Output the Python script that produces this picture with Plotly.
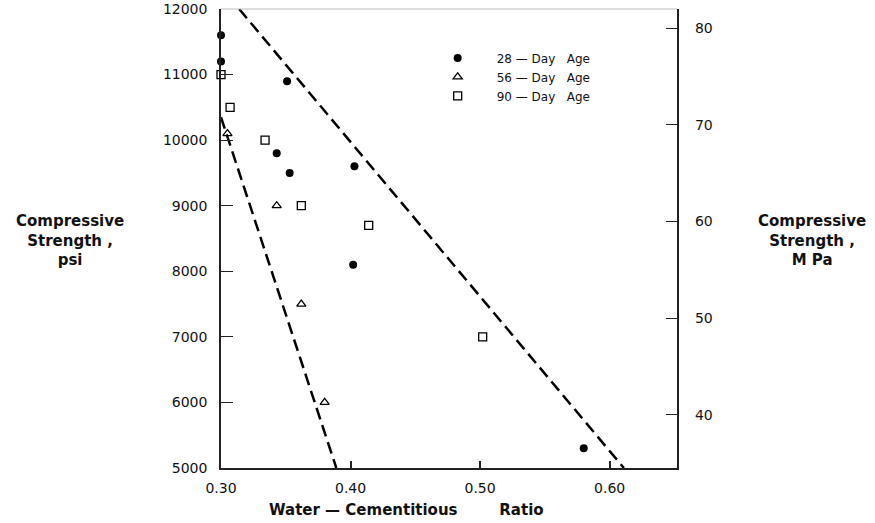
import plotly.graph_objects as go

# ---- data ----
wc_28 = [0.300, 0.300, 0.351, 0.343, 0.353, 0.403, 0.402, 0.580]
psi_28 = [11600, 11200, 10900, 9800, 9500, 9600, 8100, 5300]

wc_56 = [0.305, 0.343, 0.362, 0.380]
psi_56 = [10100, 9000, 7500, 6000]

wc_90 = [0.300, 0.307, 0.334, 0.362, 0.414, 0.502]
psi_90 = [11000, 10500, 10000, 9000, 8700, 7000]

bound_low_wc = [0.300, 0.389]
bound_low_psi = [10350, 5000]
bound_high_wc = [0.314, 0.611]
bound_high_psi = [12000, 5000]

x_ticks = [0.30, 0.40, 0.50, 0.60]
x_ticklabels = ["0.30", "0.40", "0.50", "0.60"]
psi_ticks = [5000, 6000, 7000, 8000, 9000, 10000, 11000, 12000]
psi_ticklabels = ["5000", "6000", "7000", "8000", "9000", "10000", "11000", "12000"]
mpa_ticks = [40, 50, 60, 70, 80]
mpa_ticklabels = ["40", "50", "60", "70", "80"]

NB = "\u00a0"
FONT = "DejaVu Sans"

fig = go.Figure()

dash = "12px,6px"
fig.add_trace(go.Scatter(x=bound_low_wc, y=bound_low_psi, mode="lines",
                         line=dict(color="black", width=2.5, dash=dash),
                         showlegend=False, hoverinfo="skip"))
fig.add_trace(go.Scatter(x=bound_high_wc, y=bound_high_psi, mode="lines",
                         line=dict(color="black", width=2.5, dash=dash),
                         showlegend=False, hoverinfo="skip"))

fig.add_trace(go.Scatter(x=wc_28, y=psi_28, mode="markers",
                         name=f"28 — Day{NB*3}Age",
                         marker=dict(symbol="circle", size=8, color="black"),
                         cliponaxis=False))
fig.add_trace(go.Scatter(x=wc_56, y=psi_56, mode="markers",
                         name=f"56 — Day{NB*3}Age",
                         marker=dict(symbol="triangle-up-open", size=8, color="black",
                                     line=dict(width=1.3)),
                         cliponaxis=False))
fig.add_trace(go.Scatter(x=wc_90, y=psi_90, mode="markers",
                         name=f"90 — Day{NB*3}Age",
                         marker=dict(symbol="square-open", size=8, color="black",
                                     line=dict(width=1.3)),
                         cliponaxis=False))

# invisible trace to activate the right (MPa) axis
fig.add_trace(go.Scatter(x=[None], y=[None], yaxis="y2", showlegend=False,
                         hoverinfo="skip"))

fig.update_layout(
    width=875, height=523,
    margin=dict(l=221, r=198, t=9, b=55, autoexpand=False),
    paper_bgcolor="white", plot_bgcolor="white",
    font=dict(family=FONT, size=13, color="#111"),
    showlegend=True,
    legend=dict(x=0.4335, y=0.925, xanchor="left", yanchor="top",
                bgcolor="rgba(0,0,0,0)", font=dict(size=12, color="#111"),
                itemwidth=68),
    xaxis=dict(range=[0.30, 0.652], tickvals=x_ticks, ticktext=x_ticklabels,
               showline=True, linecolor="#222", linewidth=1.5,
               ticks="inside", ticklen=7, tickcolor="#222", tickwidth=1.5,
               showgrid=False, zeroline=False, mirror=False, automargin=False,
               ticklabelstandoff=6, tickfont=dict(size=14)),
    yaxis=dict(range=[5000, 12000], tickvals=psi_ticks, ticktext=psi_ticklabels,
               showline=True, linecolor="#222", linewidth=1.5,
               ticks="inside", ticklen=12, tickcolor="#222", tickwidth=1.2,
               showgrid=False, zeroline=False, automargin=False,
               ticklabelstandoff=9, tickfont=dict(size=14)),
    yaxis2=dict(range=[34.47, 82.0], tickvals=mpa_ticks,
                ticktext=[NB * 3 + t for t in mpa_ticklabels], overlaying="y",
                side="right", showline=True, linecolor="#222", linewidth=1.5,
                ticks="inside", ticklen=11, tickcolor="#222", tickwidth=1.2,
                showgrid=False, zeroline=False, automargin=False,
                tickfont=dict(size=14)),
    shapes=[dict(type="line", xref="paper", yref="paper", x0=0, x1=1, y0=1, y1=1,
                 line=dict(color="#bbb", width=1))],
    annotations=[
        dict(text="<b>Compressive<br>Strength ,<br>psi</b>", xref="paper", yref="paper",
             x=(70 - 221) / 456, y=(468 - 240) / 459, showarrow=False,
             xanchor="center", yanchor="middle", align="center",
             font=dict(size=15, color="#111")),
        dict(text="<b>Compressive<br>Strength ,<br>M Pa</b>", xref="paper", yref="paper",
             x=(812 - 221) / 456, y=(468 - 240) / 459, showarrow=False,
             xanchor="center", yanchor="middle", align="center",
             font=dict(size=15, color="#111")),
        dict(text=f"<b>Water — Cementitious{NB*8}Ratio</b>", xref="paper", yref="paper",
             x=(406 - 221) / 456, y=-(510 - 468) / 459, showarrow=False,
             xanchor="center", yanchor="middle",
             font=dict(size=15, color="#111")),
    ],
)

fig.write_html("out.html", config={"displayModeBar": False},
               post_script="document.body.style.margin='0';document.body.style.padding='0';")
